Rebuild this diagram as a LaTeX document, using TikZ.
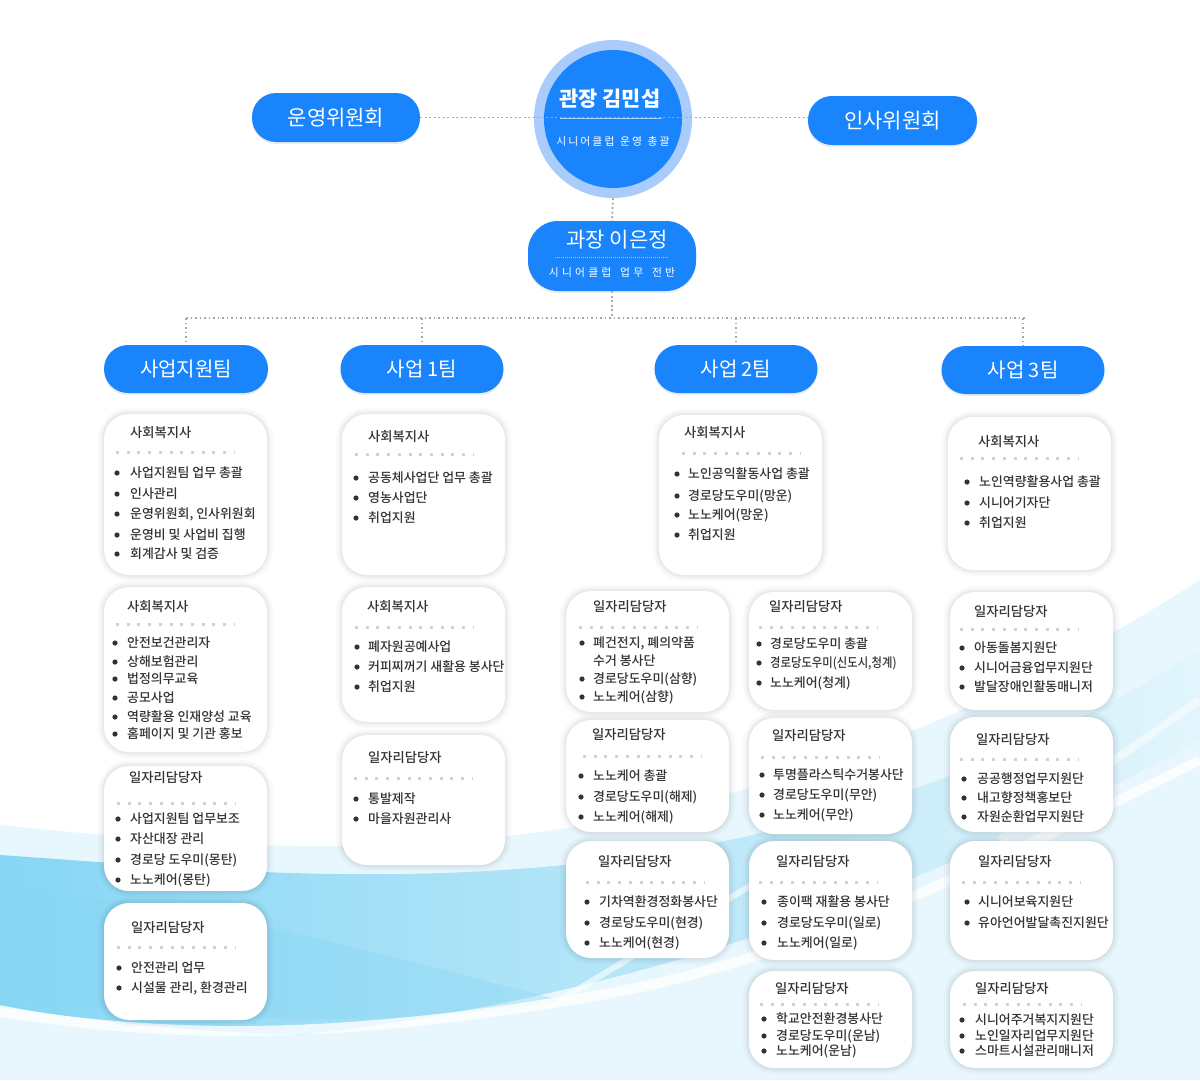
\documentclass[tikz,border=0pt]{standalone}
\usepackage{fontspec}
\usepackage{graphicx}
\setmainfont{Noto Sans CJK KR}
\newfontfamily\krmed{Noto Sans CJK KR Medium}
\usetikzlibrary{shadows}
\definecolor{pillblue}{HTML}{1A84FD}
\definecolor{ringblue}{HTML}{A9CCFA}
\definecolor{txt}{HTML}{333333}
\definecolor{dotgray}{HTML}{A8A8A8}
\definecolor{sepgray}{HTML}{D2D2D2}
\definecolor{wavea}{HTML}{E8F7FD}
\definecolor{waveb}{HTML}{86D6F4}
\definecolor{wavec}{HTML}{E2F5FC}
\tikzset{
  pill/.style={fill=pillblue, rounded corners=24pt, text=white, inner sep=0pt,
    font=\fontsize{21}{24}\selectfont,
    drop shadow={opacity=0.15, shadow xshift=0pt, shadow yshift=-2pt}},
  card/.style={fill=white, rounded corners=25pt, inner sep=0pt,
    preaction={draw=black, draw opacity=0.025, line width=12pt},
    preaction={draw=black, draw opacity=0.03, line width=7pt},
    preaction={draw=black, draw opacity=0.035, line width=3pt}},
  link/.style={dotgray, line width=1.8pt, dash pattern=on 1.8pt off 2.7pt},
  sepline/.style={sepgray, line width=3pt, dash pattern=on 3pt off 7.7pt},
  ttl/.style={anchor=west, text=txt, font=\krmed\fontsize{13.3}{15}\selectfont, inner sep=0pt},
  itm/.style={anchor=west, text=txt, font=\krmed\fontsize{12.9}{15}\selectfont, inner sep=0pt},
  dotb/.style={circle, fill=txt, inner sep=0pt, minimum size=5.2pt},
}
\newcommand\mkcard[5]{\node[card, minimum width={#4-#2}, minimum height={#5-#3}] (#1) at ({(#2+#4)/2},{(#3+#5)/2}) {};}
\newcommand\mkhead[6]{\node[ttl] (#1-t) at (#2,#3) {#6};
  \coordinate (#1-sa) at (#4,#5); \coordinate (#1-sb) at ({#4+118},#5);
  \draw[sepline] (#1-sa) -- (#1-sb);}
\newcommand\mkitems[4]{\foreach \yy/\itxt [count=\k] in {#4}{%
  \node[dotb] (#1-b\k) at (#2,\yy) {};
  \node[itm] (#1-i\k) at (#3,\yy) {\itxt};}}
\newcommand\kk{\kern2.1pt}
\newcommand\kb{\kern3.2pt}
\begin{document}
\begin{tikzpicture}[x=1pt,y=-1pt]
\useasboundingbox (0,0) rectangle (1200,1080);
\fill[white] (0,0) rectangle (1200,1080);
% background waves
\fill[wavea] (0,825) .. controls (300,855) and (700,900) .. (1200,580) -- (1200,1080) -- (0,1080) -- cycle;
\path[left color=waveb, right color=wavec]
  (0,855) .. controls (300,875) and (750,935) .. (1200,650)
  -- (1200,740) .. controls (1000,850) and (700,990) .. (300,1035)
  .. controls (150,1030) and (50,1015) .. (0,1005) -- cycle;
\fill[waveb, opacity=0.35] (0,890) .. controls (200,900) and (400,960) .. (560,1000)
  .. controls (400,1030) and (200,1020) .. (0,1000) -- cycle;
\draw[white, line width=10pt, opacity=0.8] (0,1012) .. controls (150,1035) and (320,1045) .. (600,995) .. controls (800,960) and (1000,860) .. (1200,760);
\draw[white, line width=6pt, opacity=0.6] (560,1000) -- (760,880);
\draw[white, line width=8pt, opacity=0.5] (1000,840) -- (1200,700);
\draw[white, line width=6pt, opacity=0.5] (1060,630) -- (1200,560);

% top level
\node[circle, fill=ringblue, minimum size=158, inner sep=0pt] (dirring) at (613,119) {};
\node[circle, fill=pillblue, minimum size=138, inner sep=0pt] (dir) at (613,119) {};
\node[text=white, font=\bfseries\fontsize{20.8}{24}\selectfont, inner sep=0pt] (dirname) at (610,99) {관장 김민섭};
\node[text=white, font=\fontsize{10.8}{12}\selectfont, inner sep=0pt] (dirsub) at (613,141) {시\kk 니\kk 어\kk 클\kk 럽\kb\ 운\kk 영\kb\ 총\kk 괄};
\node[pill, minimum width=168, minimum height=49] (op) at (336,117.5) {운영위원회};
\node[pill, minimum width=169, minimum height=49] (hr) at (892.5,120.5) {인사위원회};
\coordinate (dl) at (560,118);
\coordinate (dr) at (662,118);
\draw[white!60!pillblue, line width=0.8pt] (dl) -- (dr);
\draw[link] (op.east) -- (op.east -| hr.west);

\node[pill, rounded corners=30pt, minimum width=168, minimum height=70] (mgr) at (612,256) {};
\node[text=white, font=\fontsize{21}{24}\selectfont, inner sep=0pt] (mgrname) at (617,240) {과장 이은정};
\coordinate (ml) at (555,257);
\coordinate (mr) at (668,257);
\draw[white!55!pillblue, line width=0.7pt, dash pattern=on 1pt off 1pt] (ml) -- (mr);
\node[text=white, font=\fontsize{10.8}{12}\selectfont, inner sep=0pt] (mgrsub) at (612,272) {시\kb 니\kb 어\kb 클\kb 럽\kb\kb\ 업\kb 무\kb\kb\ 전\kb 반};
\draw[link] (dirring.south) -- (mgr.north);

% teams
\node[pill, font=\fontsize{20}{22}\selectfont, minimum width=164, minimum height=48] (t0) at (186,369) {사업지원팀};
\node[pill, font=\fontsize{20}{22}\selectfont, minimum width=163, minimum height=48] (t1) at (422,369) {사업 1팀};
\node[pill, font=\fontsize{20}{22}\selectfont, minimum width=163, minimum height=48] (t2) at (736,369) {사업 2팀};
\node[pill, font=\fontsize{20}{22}\selectfont, minimum width=163, minimum height=48] (t3) at (1023,370) {사업 3팀};
\coordinate (busL) at (186,318);
\coordinate (busR) at (1027,318);
\draw[link] (mgr.south) -- (mgr.south |- busL);
\draw[link] (busL) -- (busR);
\draw[link] (busL) -- (t0.north);
\draw[link] (t1.north |- busL) -- (t1.north);
\draw[link] (t2.north |- busL) -- (t2.north);
\draw[link] (t3.north |- busL) -- (t3.north);

% column 1
\mkcard{a1}{104}{414}{267}{575}
\mkhead{a1}{130}{433}{116}{452}{사회복지사}
\mkitems{a1}{117}{130}{473/사업지원팀 업무 총괄,494/인사관리,514/{운영위원회, 인사위원회},535/운영비 및 사업비 집행,554/회계감사 및 검증}
\mkcard{a2}{104}{587}{267}{752}
\mkhead{a2}{127}{607}{116}{624}{사회복지사}
\mkitems{a2}{115}{127}{643/안전보건관리자,662/상해보험관리,679/법정의무교육,698/공모사업,717/역량활용 인재양성 교육,734/홈페이지 및 기관 홍보}
\mkcard{a3}{104}{766}{267}{891}
\mkhead{a3}{129}{778}{117}{803}{일자리담당자}
\mkitems{a3}{118}{130}{819/사업지원팀 업무보조,839/자산대장 관리,860/경로당 도우미(몽탄),880/노노케어(몽탄)}
\mkcard{a4}{104}{903}{267}{1020}
\mkhead{a4}{131}{928}{117}{947}{일자리담당자}
\mkitems{a4}{119}{131}{968/안전관리 업무,988/{시설물 관리, 환경관리}}

% column 2
\mkcard{b1}{342}{414}{505}{575}
\mkhead{b1}{368}{437}{355}{454}{사회복지사}
\mkitems{b1}{356}{368}{478/공동체사업단 업무 총괄,498/영농사업단,518/취업지원}
\mkcard{b2}{342}{587}{505}{722}
\mkhead{b2}{367}{607}{355}{627}{사회복지사}
\mkitems{b2}{357}{368}{647/폐자원공예사업,667/커피찌꺼기 새활용 봉사단,687/취업지원}
\mkcard{b3}{342}{735}{505}{865}
\mkhead{b3}{368}{758}{354}{778}{일자리담당자}
\mkitems{b3}{356}{368}{799/통발제작,819/마을자원관리사}

% column 3 top
\mkcard{s2}{659}{415}{822}{575}
\mkhead{s2}{684}{433}{682}{453}{사회복지사}
\mkitems{s2}{677}{688}{474/노인공익활동사업 총괄,496/경로당도우미(망운),515/노노케어(망운),535/취업지원}

% column 3a
\mkcard{c1}{566}{591}{729}{712}
\mkhead{c1}{593}{607}{579}{627}{일자리담당자}
\mkitems{c1}{582}{593}{643/{폐건전지, 폐의약품},679/경로당도우미(삼향),697/노노케어(삼향)}
\node[itm] (c1-cont) at (593,661) {수거 봉사단};
\mkcard{c2}{566}{720}{729}{832}
\mkhead{c2}{592}{735}{583}{756}{일자리담당자}
\mkitems{c2}{581}{593}{776/노노케어 총괄,797/경로당도우미(해제),817/노노케어(해제)}
\mkcard{c3}{566}{841}{729}{958}
\mkhead{c3}{598}{862}{586}{882}{일자리담당자}
\mkitems{c3}{587}{599}{902/기차역환경정화봉사단,923/경로당도우미(현경),943/노노케어(현경)}

% column 3b
\mkcard{d1}{749}{592}{912}{710}
\mkhead{d1}{769}{607}{759}{627}{일자리담당자}
\mkitems{d1}{759}{770}{644/경로당도우미 총괄,663/\scalebox{0.88}[1]{경로당도우미(신도시,청계)},683/노노케어(청계)}
\mkcard{d2}{749}{718}{912}{834}
\mkhead{d2}{772}{736}{761}{757}{일자리담당자}
\mkitems{d2}{762}{773}{775/투명플라스틱수거봉사단,795/경로당도우미(무안),815/노노케어(무안)}
\mkcard{d3}{749}{841}{912}{960}
\mkhead{d3}{776}{862}{759}{882}{일자리담당자}
\mkitems{d3}{764}{777}{902/종이팩 재활용 봉사단,923/경로당도우미(일로),943/노노케어(일로)}
\mkcard{d4}{749}{971}{912}{1068}
\mkhead{d4}{775}{989}{760}{1004}{일자리담당자}
\mkitems{d4}{764}{776}{1019/학교안전환경봉사단,1036/경로당도우미(운남),1051/노노케어(운남)}

% column 4
\mkcard{e1}{948}{417}{1111}{570}
\mkhead{e1}{978}{442}{960}{458}{사회복지사}
\mkitems{e1}{967}{979}{482/노인역량활용사업 총괄,503/시니어기자단,523/취업지원}
\mkcard{e2}{950}{592}{1113}{710}
\mkhead{e2}{974}{612}{960}{629}{일자리담당자}
\mkitems{e2}{962}{974}{648/아동돌봄지원단,668/시니어금융업무지원단,687/발달장애인활동매니저}
\mkcard{e3}{950}{717}{1113}{832}
\mkhead{e3}{976}{740}{960}{759}{일자리담당자}
\mkitems{e3}{964}{977}{779/공공행정업무지원단,798/내고향정책홍보단,817/자원순환업무지원단}
\mkcard{e4}{950}{841}{1113}{960}
\mkhead{e4}{978}{862}{962}{882}{일자리담당자}
\mkitems{e4}{967}{978}{902/시니어보육지원단,923/유아언어발달촉진지원단}
\mkcard{e5}{950}{971}{1113}{1068}
\mkhead{e5}{975}{989}{963}{1004}{일자리담당자}
\mkitems{e5}{962}{975}{1020/시니어주거복지지원단,1036/노인일자리업무지원단,1051/스마트시설관리매니저}
\end{tikzpicture}
\end{document}
